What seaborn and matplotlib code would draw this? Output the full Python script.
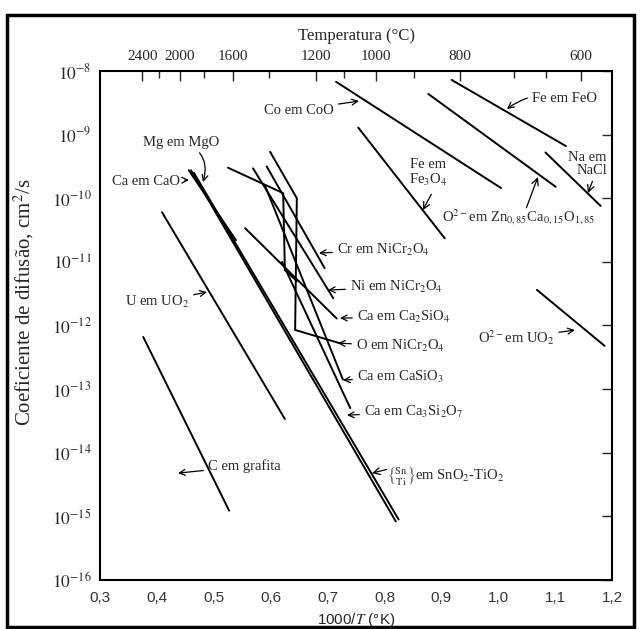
import numpy as np
import pandas as pd
import matplotlib.pyplot as plt
import matplotlib.patches as mpatches
import seaborn as sns

sns.set_theme(style="white")
plt.rcParams['font.family'] = ['Liberation Serif', 'DejaVu Serif']
plt.rcParams['mathtext.fontset'] = 'stix'

# x = 1000/T (K), y = log10(D)
co_x, co_y = [0.715, 1.005], [-8.17, -9.84]
feo_x, feo_y = [0.918, 1.119], [-8.14, -9.18]
zn_x, zn_y = [0.877, 1.101], [-8.36, -9.82]
na_x, na_y = [1.083, 1.180], [-9.28, -10.12]
fe3o4_x, fe3o4_y = [0.754, 0.906], [-8.89, -10.63]
uo2o_x, uo2o_y = [1.068, 1.187], [-11.44, -12.32]
c_x, c_y = [0.376, 0.527], [-12.18, -14.91]
u_x, u_y = [0.409, 0.625], [-10.22, -13.47]
cao_x, cao_y = [0.456, 0.539], [-9.56, -10.66]
mgo_x, mgo_y = [0.460, 0.820], [-9.56, -15.08]
sn_x, sn_y = [0.465, 0.825], [-9.60, -15.05]
cr_x, cr_y = [0.593, 0.695], [-9.50, -11.10]
ni_x, ni_y = [0.569, 0.710], [-9.53, -11.57]
ca2_x, ca2_y = [0.555, 0.716], [-10.47, -11.89]
onicr_x, onicr_y = [0.599, 0.646, 0.643, 0.722], [-9.27, -10.00, -12.07, -12.28]
nicr2_x, nicr2_y = [0.525, 0.622, 0.625, 0.646], [-9.52, -9.92, -11.13, -11.30]
casio3_x, casio3_y = [0.590, 0.727], [-9.80, -12.85]
ca3_x, ca3_y = [0.620, 0.740], [-11.0, -13.30]

series = {
    "CoO": (co_x, co_y), "FeO": (feo_x, feo_y), "Zn": (zn_x, zn_y),
    "NaCl": (na_x, na_y), "Fe3O4": (fe3o4_x, fe3o4_y), "UO2o": (uo2o_x, uo2o_y),
    "C": (c_x, c_y), "U": (u_x, u_y), "CaO": (cao_x, cao_y), "MgO": (mgo_x, mgo_y),
    "Sn": (sn_x, sn_y), "Cr": (cr_x, cr_y), "Ni": (ni_x, ni_y), "Ca2": (ca2_x, ca2_y),
    "ONiCr": (onicr_x, onicr_y), "NiCr2": (nicr2_x, nicr2_y),
    "CaSiO3": (casio3_x, casio3_y), "Ca3": (ca3_x, ca3_y),
}
rows = []
for name, (xs, ys) in series.items():
    for i, (a, b) in enumerate(zip(xs, ys)):
        rows.append({"serie": name, "ordem": i, "x": a, "D": 10.0 ** b})
df = pd.DataFrame(rows)

fig = plt.figure(figsize=(6.41, 6.29), dpi=100)
ax = fig.add_axes([100 / 641, 1 - 580 / 629, 512 / 641, 509 / 629])

sns.lineplot(data=df, x="x", y="D", units="serie", estimator=None, sort=False,
             color="black", linewidth=1.4, ax=ax, legend=False)

ax.set_yscale("log")
ax.set_xlim(0.3, 1.2)
ax.set_ylim(1e-16, 1e-8)

xt = [0.3, 0.4, 0.5, 0.6, 0.7, 0.8, 0.9, 1.0, 1.1, 1.2]
ax.set_xticks(xt)
ax.set_xticklabels([f"{v:.1f}".replace(".", ",") for v in xt],
                   family=["Liberation Sans", "DejaVu Sans"], fontsize=11, color="#333333")
yt = [10.0 ** -n for n in range(8, 17)]
ax.set_yticks(yt)
ax.set_yticklabels([f"$10^{{-{n}}}$" for n in range(8, 17)], fontsize=12.5)
ax.minorticks_off()
ax.tick_params(direction="in", length=7, width=1, right=True, top=False, pad=6)
ax.tick_params(axis="x", pad=8)
for s in ax.spines.values():
    s.set_linewidth(1.5)
    s.set_color("black")
ax.set_xlabel("1000/$T$ (°K)", fontsize=11, family=["Liberation Sans", "DejaVu Sans"], labelpad=4)
ax.set_ylabel("Coeficiente de difusão, cm$^2$/s", fontsize=15)
ax.yaxis.set_label_coords(-0.125, 0.546)

# top temperature axis
temps = [2400, 2000, 1600, 1200, 1000, 800, 600]
temps_minor = [2200, 1800, 1400, 1100, 900, 700, 650]
sec = ax.secondary_xaxis("top", functions=(lambda v: v, lambda v: v))
sec.set_xticks([1000 / (t + 273) for t in temps])
sec.set_xticklabels([str(t) for t in temps], fontsize=11)
sec.set_xticks([1000 / (t + 273) for t in temps_minor], minor=True)
sec.tick_params(direction="in", length=7, width=1, pad=6)
sec.tick_params(which="minor", direction="in", length=5, width=1)
sec.set_xlabel("Temperatura (°C)", fontsize=12, labelpad=7)


def P(px, py):
    # place a label by its pixel position in the 641x629 picture
    return (0.3 + (px - 100) / 569, 10 ** (-8 - (py - 71) / 63.6))


arrow = dict(arrowstyle="->", color="black", lw=0.9, shrinkA=1, shrinkB=0)


def lab(txt, tip, at, ha="left", curve=0.0, **kw):
    a = dict(arrow)
    if curve:
        a["connectionstyle"] = f"arc3,rad={curve}"
    ax.annotate(txt, xy=P(*tip), xytext=P(*at), fontsize=10.5, ha=ha, va="center",
                arrowprops=a, **kw)


lab("Co em CoO", (359, 101), (334, 110), ha="right")
lab("Fe em FeO", (507, 109), (532, 98), curve=0.25)
ax.text(*P(607, 164), "Na em\nNaCl", fontsize=10.5, ha="right", va="center",
        multialignment="right", linespacing=1.0)
ax.annotate("", xy=P(588, 193), xytext=P(593, 180), arrowprops=arrow)
ax.text(*P(428, 173), "Fe em\nFe$_3$O$_4$", fontsize=10.5, ha="center", va="center", linespacing=1.1)
ax.annotate("", xy=P(423, 210), xytext=P(432, 193), arrowprops=arrow)
ax.text(*P(442, 217), "O$^{2-}$em Zn$_{0,85}$Ca$_{0,15}$O$_{1,85}$", fontsize=10.5, ha="left", va="center")
ax.annotate("", xy=P(538, 177), xytext=P(526, 209), arrowprops=arrow)
lab("Mg em MgO", (203, 182), (143, 142), curve=-0.5)
lab("Ca em CaO", (189, 180), (112, 181))
lab("U em UO$_2$", (207, 292), (125, 302))
lab("C em grafita", (178, 473), (208, 466))
lab("O$^{2-}$em UO$_2$", (575, 330), (478, 338))
lab("Cr em NiCr$_2$O$_4$", (319, 253), (337, 250))
lab("Ni em NiCr$_2$O$_4$", (328, 290), (350, 287))
lab("Ca em Ca$_2$SiO$_4$", (340, 318), (357, 317))
lab("O em NiCr$_2$O$_4$", (338, 343), (356, 346))
lab("Ca em CaSiO$_3$", (343, 380), (357, 377))
lab("Ca em Ca$_3$Si$_2$O$_7$", (347, 415), (364, 412))
ax.text(*P(387, 476), r"$\left\{\genfrac{}{}{0}{}{\mathrm{Sn}}{\mathrm{Ti}}\right\}$em SnO$_2$-TiO$_2$",
        fontsize=10.5, ha="left", va="center")
ax.annotate("", xy=P(372, 473), xytext=P(388, 469), arrowprops=arrow)

fig.patches.append(mpatches.Rectangle((7 / 641, 2 / 629), 627 / 641, 612 / 629, fill=False,
                                      edgecolor="black", linewidth=2.5, transform=fig.transFigure))
fig.savefig("out.png", dpi=100)
